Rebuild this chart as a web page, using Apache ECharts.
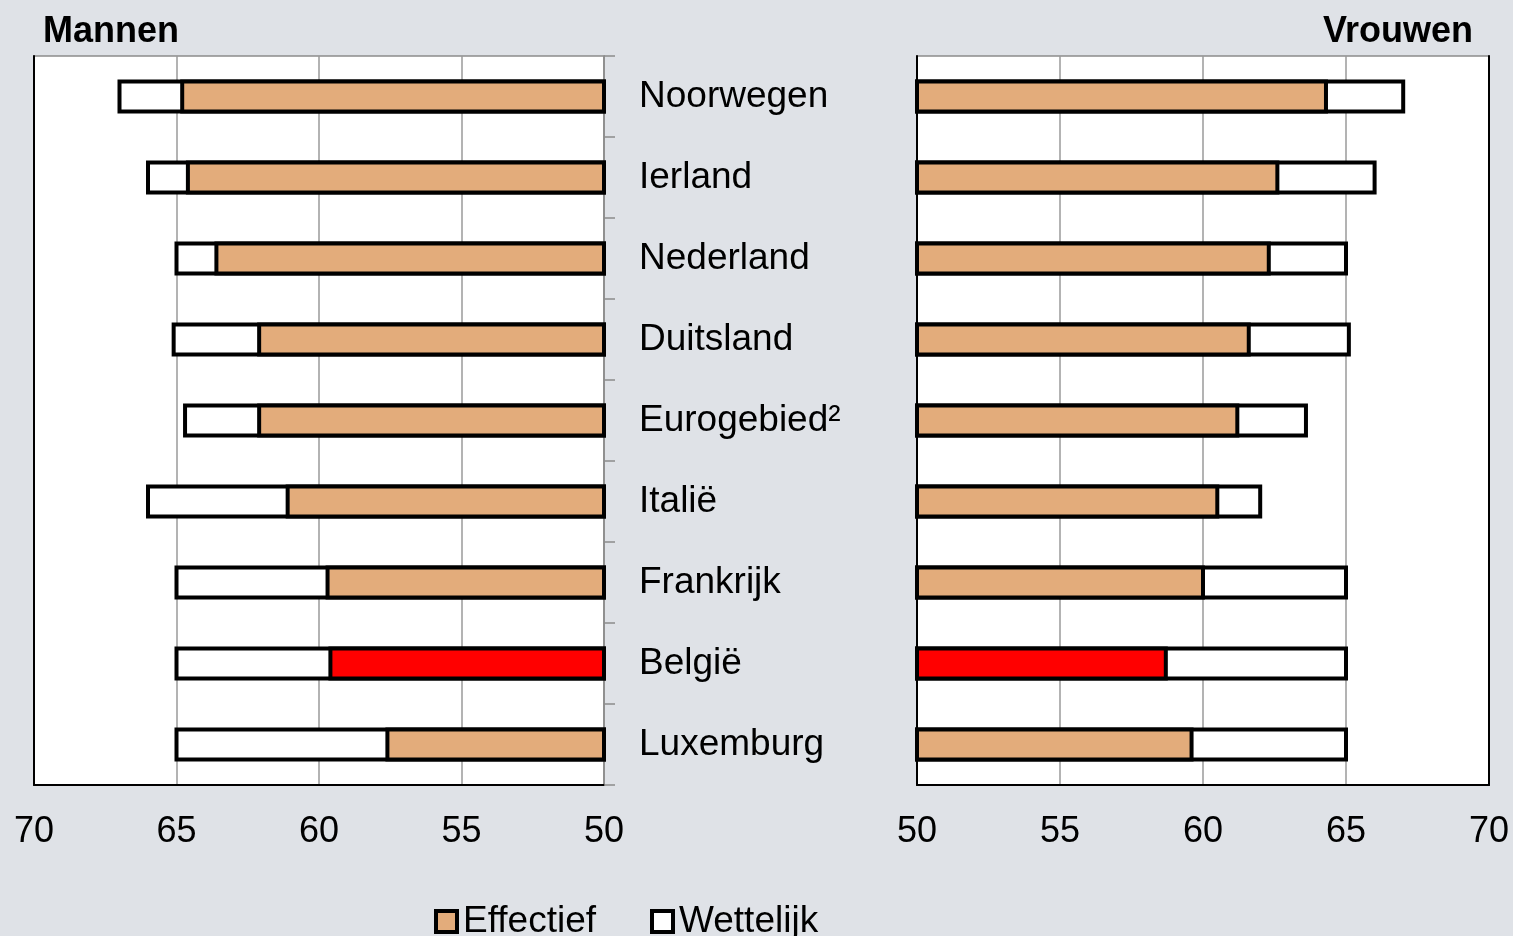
<!DOCTYPE html>
<html>
<head>
<meta charset="utf-8">
<script src="https://cdn.jsdelivr.net/npm/echarts@6/dist/echarts.min.js"></script>
<style>
  html, body { margin: 0; padding: 0; background: #DFE2E7; }
  #chart { width: 1513px; height: 936px; }
</style>
</head>
<body>
<div id="chart"></div>
<script>
// Pensioenleeftijd per land (jaren)
const countries = ['Noorwegen', 'Ierland', 'Nederland', 'Duitsland', 'Eurogebied²', 'Italië', 'Frankrijk', 'België', 'Luxemburg'];
const menEffective   = [64.8, 64.6, 63.6, 62.1, 62.1, 61.1, 59.7, 59.6, 57.6];
const menStatutory   = [67.0, 66.0, 65.0, 65.1, 64.7, 66.0, 65.0, 65.0, 65.0];
const womenEffective = [64.3, 62.6, 62.3, 61.6, 61.2, 60.5, 60.0, 58.7, 59.6];
const womenStatutory = [67.0, 66.0, 65.0, 65.1, 63.6, 62.0, 65.0, 65.0, 65.0];
const axisTicks = [50, 55, 60, 65, 70];
const highlight = 'België';

const FONT = '"Liberation Sans", Arial, sans-serif';
const ORANGE = '#E3AC7B';
const RED = '#FF0000';
const AXIS_MIN = axisTicks[0];
const AXIS_MAX = axisTicks[axisTicks.length - 1];

// Bars run from the axis base (50) to the value
function renderBar(params, api) {
  const v = api.value(0);
  const cat = api.value(1);
  const p0 = api.coord([AXIS_MIN, cat]);
  const p1 = api.coord([v, cat]);
  const h = api.size([0, 1])[1] * 0.37;
  return {
    type: 'rect',
    shape: {
      x: Math.min(p0[0], p1[0]),
      y: p0[1] - h / 2,
      width: Math.abs(p1[0] - p0[0]),
      height: h
    },
    style: { fill: api.visual('color'), stroke: '#000', lineWidth: 4 }
  };
}

function effectiveData(values) {
  return values.map((v, i) => ({
    value: [v, i],
    itemStyle: { color: countries[i] === highlight ? RED : ORANGE }
  }));
}
function statutoryData(values) {
  return values.map((v, i) => [v, i]);
}

const grids = [
  { left: 34, width: 570, top: 56, height: 729 },
  { left: 917, width: 572, top: 56, height: 729 }
];

const valueAxisBase = {
  type: 'value', min: AXIS_MIN, max: AXIS_MAX, interval: 5,
  axisLine: { show: true, onZero: false, lineStyle: { color: '#000', width: 2 } },
  axisTick: { show: false },
  axisLabel: { fontFamily: FONT, fontSize: 36, color: '#000', margin: 29 },
  splitLine: { show: true, lineStyle: { color: '#9A9A9A', width: 1.5 } }
};

const titleStyle = { fontFamily: FONT, fontSize: 36, fontWeight: 'bold', color: '#000' };

const option = {
  backgroundColor: '#DFE2E7',
  animation: false,
  title: [
    { text: 'Mannen', left: 38, top: 9, textStyle: titleStyle },
    { text: 'Vrouwen', right: 35, top: 9, textStyle: titleStyle }
  ],
  legend: {
    left: 429, top: 898,
    itemWidth: 21, itemHeight: 21, itemGap: 54,
    selectedMode: false,
    textStyle: { fontFamily: FONT, fontSize: 37, color: '#000', padding: [0, 0, 0, 1] },
    data: [
      { name: 'Effectief', icon: 'rect', itemStyle: { color: ORANGE, borderColor: '#000', borderWidth: 4 } },
      { name: 'Wettelijk', icon: 'rect', itemStyle: { color: '#FFFFFF', borderColor: '#000', borderWidth: 4 } }
    ]
  },
  grid: grids.map(g => Object.assign({ show: true, backgroundColor: '#FFFFFF', borderColor: '#8C8C8C', borderWidth: 1.5 }, g)),
  xAxis: [
    Object.assign({}, valueAxisBase, { gridIndex: 0, inverse: true }),
    Object.assign({}, valueAxisBase, { gridIndex: 1 })
  ],
  yAxis: [
    // Men: country names on the right edge of the left panel
    {
      type: 'category', gridIndex: 0, data: countries, inverse: true, position: 'right',
      axisLine: { show: true, lineStyle: { color: '#8C8C8C', width: 1.5 } },
      axisTick: { show: true, inside: false, length: 11, lineStyle: { color: '#8C8C8C', width: 1.5 } },
      axisLabel: { fontFamily: FONT, fontSize: 37, color: '#000', align: 'left', margin: 35, padding: [10, 0, 0, 0] },
      splitLine: { show: false }
    },
    // Men: outer left edge
    {
      type: 'category', gridIndex: 0, data: countries, inverse: true, position: 'left',
      axisLine: { show: true, lineStyle: { color: '#000', width: 2 } },
      axisTick: { show: false }, axisLabel: { show: false }, splitLine: { show: false }
    },
    // Women: left edge
    {
      type: 'category', gridIndex: 1, data: countries, inverse: true, position: 'left',
      axisLine: { show: true, lineStyle: { color: '#000', width: 2 } },
      axisTick: { show: false }, axisLabel: { show: false }, splitLine: { show: false }
    },
    // Women: right edge
    {
      type: 'category', gridIndex: 1, data: countries, inverse: true, position: 'right',
      axisLine: { show: true, lineStyle: { color: '#000', width: 2 } },
      axisTick: { show: false }, axisLabel: { show: false }, splitLine: { show: false }
    }
  ],
  series: [
    { name: 'Wettelijk', type: 'custom', xAxisIndex: 0, yAxisIndex: 0, renderItem: renderBar,
      itemStyle: { color: '#FFFFFF' }, encode: { x: 0, y: 1 }, data: statutoryData(menStatutory), z: 3 },
    { name: 'Effectief', type: 'custom', xAxisIndex: 0, yAxisIndex: 0, renderItem: renderBar,
      itemStyle: { color: ORANGE }, encode: { x: 0, y: 1 }, data: effectiveData(menEffective), z: 4 },
    { name: 'Wettelijk', type: 'custom', xAxisIndex: 1, yAxisIndex: 2, renderItem: renderBar,
      itemStyle: { color: '#FFFFFF' }, encode: { x: 0, y: 1 }, data: statutoryData(womenStatutory), z: 3 },
    { name: 'Effectief', type: 'custom', xAxisIndex: 1, yAxisIndex: 2, renderItem: renderBar,
      itemStyle: { color: ORANGE }, encode: { x: 0, y: 1 }, data: effectiveData(womenEffective), z: 4 }
  ]
};

const chart = echarts.init(document.getElementById('chart'), null, { renderer: 'canvas' });
chart.setOption(option);
</script>
</body>
</html>
